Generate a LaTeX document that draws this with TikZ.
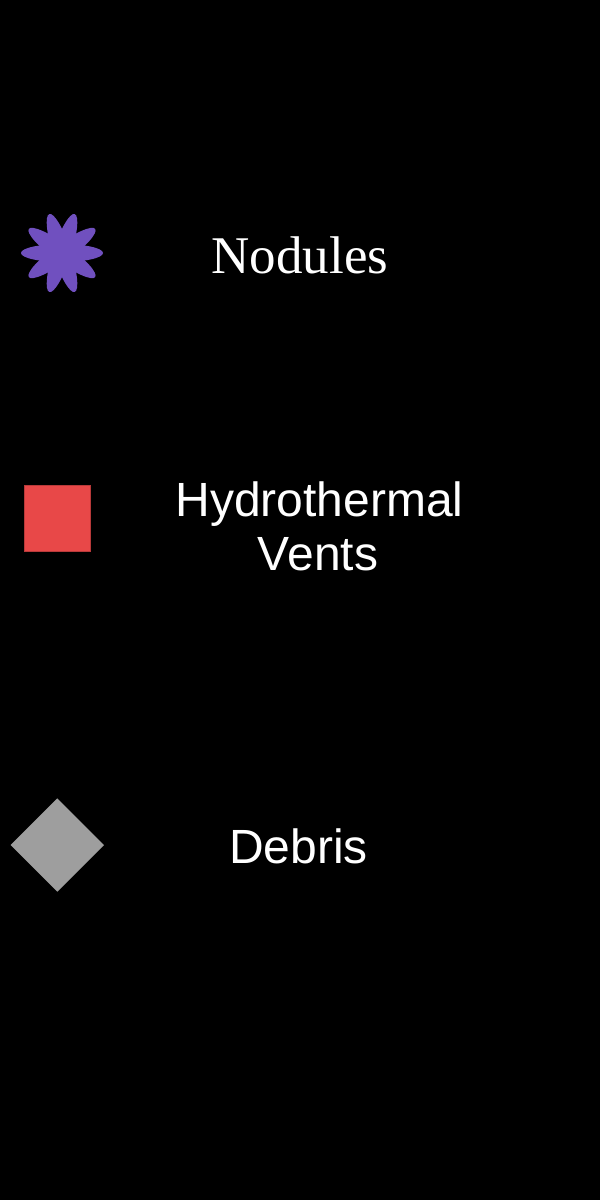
\documentclass[tikz,border=0pt]{standalone}
\usepackage{fontspec}
\setmainfont{Liberation Serif}
\newfontfamily\arialf{Liberation Sans}
\definecolor{nodpurple}{HTML}{7050BF}
\definecolor{ventred}{HTML}{E84848}
\definecolor{ventedge}{HTML}{B83A3A}
\definecolor{debgray}{HTML}{9E9E9E}
\tikzset{
  lbl/.style={text=white, inner sep=0pt, anchor=base},
  sanslbl/.style={lbl, font=\arialf\fontsize{24pt}{27pt}\selectfont},
  seriflbl/.style={lbl, font=\fontsize{26.5pt}{30pt}\selectfont},
}
\begin{document}
\begin{tikzpicture}[x=0.5pt, y=-0.5pt]
  \fill[black] (0,0) rectangle (600,1200);
  \useasboundingbox (0,0) rectangle (600,1200);
  % star (nodules)
  \coordinate (starc) at (62,253);
  \foreach \a in {0,36,72,108,144}
    \fill[nodpurple, rotate around={\a:(starc)}] (starc) ellipse [x radius=41, y radius=9];
  \fill[nodpurple] (starc) circle [radius=21];
  % square (vents)
  \fill[ventred, draw=ventedge, line width=0.5pt] (24.5,485.5) rectangle (90.5,551);
  % diamond (debris)
  \fill[debgray] (57.3,798.3) -- (104,845) -- (57.3,891.7) -- (10.6,845) -- cycle;
  % labels
  \node[seriflbl] (nod) at (300,273) {Nodules};
  \node[sanslbl] (hyd) at (319.5,516.7) {Hydrothermal};
  \node[sanslbl] (ven) at (318,570) {Vents};
  \node[sanslbl] (deb) at (298.5,863) {Debris};
\end{tikzpicture}
\end{document}
